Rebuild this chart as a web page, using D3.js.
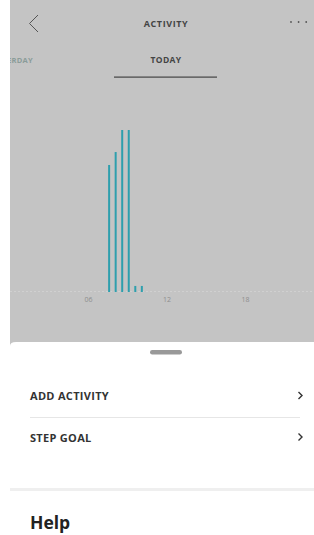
<!DOCTYPE html>
<html>
<head>
<meta charset="utf-8">
<script src="https://cdn.jsdelivr.net/npm/d3@7"></script>
<style>
	body { margin: 0; background: #fff; }
	svg { display: block; font-family: "Open Sans", sans-serif; }
</style>
</head>
<body>
<div id="chart"></div>
<script>
(function() {
	var width = 314,
		height = 535;

	// half-hour bins (hour of day) and steps in each
	var binHours = [7.5, 8.0, 8.5, 9.0, 9.5, 10.0];
	var binSteps = [1176, 1296, 1500, 1500, 56, 56];
	var tickHours = [6, 12, 18];
	var tickLabels = ["06", "12", "18"];

	var svg = d3.select("#chart")
		.append("svg")
		.attr("width", width)
		.attr("height", height)

	// gray app background
	svg.append("rect")
		.attr("x", 10).attr("y", 0)
		.attr("width", width - 10).attr("height", 350)
		.attr("fill", "#c4c4c4")

	// header
	svg.append("path")
		.attr("d", "M38,15 L29.5,23.5 L38,32")
		.attr("fill", "none")
		.attr("stroke", "#555")
		.attr("stroke-width", 1)

	svg.append("text")
		.attr("x", 166).attr("y", 27)
		.attr("text-anchor", "middle")
		.attr("font-size", 9)
		.attr("font-weight", "bold")
		.attr("letter-spacing", 0.6)
		.attr("fill", "#444")
		.text("ACTIVITY")

	svg.selectAll(".dot")
		.data([0, 1, 2])
		.enter().append("circle")
		.attr("class", "dot")
		.attr("cx", function(d){ return 291 + d * 7.6 })
		.attr("cy", 22)
		.attr("r", 0.9)
		.attr("fill", "#555")

	// tabs
	svg.append("text")
		.attr("x", 7).attr("y", 63)
		.attr("font-size", 7.5)
		.attr("font-weight", "bold")
		.attr("letter-spacing", 0.3)
		.attr("fill", "#8a9c99")
		.text("ERDAY")

	svg.append("text")
		.attr("x", 166).attr("y", 63)
		.attr("text-anchor", "middle")
		.attr("font-size", 8.5)
		.attr("font-weight", "bold")
		.attr("letter-spacing", 0.4)
		.attr("fill", "#444")
		.text("TODAY")

	svg.append("rect")
		.attr("x", 114).attr("y", 76.5)
		.attr("width", 103).attr("height", 1.2)
		.attr("fill", "#444")

	// white strip covers the cut-off tab on the left
	svg.append("rect")
		.attr("x", 0).attr("y", 0)
		.attr("width", 10).attr("height", height)
		.attr("fill", "#fff")

	// chart
	var x = d3.scaleLinear()
		.domain([0, 24])
		.range([9.5, 323.5])

	var y = d3.scaleLinear()
		.domain([0, 1500])
		.range([292, 130])

	svg.append("line")
		.attr("x1", 10).attr("x2", width)
		.attr("y1", 291.5).attr("y2", 291.5)
		.attr("stroke", "#d0d0d0")
		.attr("stroke-width", 1)
		.attr("stroke-dasharray", "2,2")

	var xAxis = d3.axisBottom(x)
		.tickValues(tickHours)
		.tickFormat(function(d, i){ return tickLabels[i] })
		.tickSize(0)
		.tickPadding(0)

	var axisG = svg.append("g")
		.attr("transform", "translate(0,297)")
		.call(xAxis)
	axisG.select(".domain").remove()
	axisG.selectAll("text")
		.attr("font-family", "Open Sans, sans-serif")
		.attr("font-size", 7)
		.attr("fill", "#8e8e8e")

	svg.selectAll(".bar")
		.data(binHours)
		.enter().append("rect")
		.attr("class", "bar")
		.attr("x", function(d){ return x(d) + 0.5 })
		.attr("y", function(d, i){ return y(binSteps[i]) })
		.attr("width", 2)
		.attr("height", function(d, i){ return y(0) - y(binSteps[i]) })
		.attr("fill", "#2e9fad")

	// bottom sheet
	svg.append("path")
		.attr("d", "M10,350 L10,346 Q10,342 16,342 L" + width + ",342 L" + width + "," + height + " L10," + height + " Z")
		.attr("fill", "#fff")

	svg.append("rect")
		.attr("x", 150).attr("y", 350)
		.attr("width", 32).attr("height", 4.5)
		.attr("rx", 2.2)
		.attr("fill", "#999")

	var rows = ["ADD ACTIVITY", "STEP GOAL"];
	var rowY = [400, 441.5];

	svg.selectAll(".row")
		.data(rows)
		.enter().append("text")
		.attr("class", "row")
		.attr("x", 30)
		.attr("y", function(d, i){ return rowY[i] })
		.attr("font-size", 11)
		.attr("font-weight", "bold")
		.attr("letter-spacing", 0.3)
		.attr("fill", "#333")
		.text(function(d){ return d })

	svg.selectAll(".chev")
		.data(rowY)
		.enter().append("path")
		.attr("class", "chev")
		.attr("d", function(d){ return "M298.5," + (d - 8) + " L302," + (d - 4.5) + " L298.5," + (d - 1) })
		.attr("fill", "none")
		.attr("stroke", "#333")
		.attr("stroke-width", 1.4)

	svg.append("line")
		.attr("x1", 30).attr("x2", 300)
		.attr("y1", 417.5).attr("y2", 417.5)
		.attr("stroke", "#e6e6e6")

	svg.append("rect")
		.attr("x", 10).attr("y", 488)
		.attr("width", width - 10).attr("height", 3)
		.attr("fill", "#efefef")

	svg.append("text")
		.attr("x", 30).attr("y", 529)
		.attr("font-size", 17.5)
		.attr("font-weight", "bold")
		.attr("fill", "#222")
		.text("Help")
})();
</script>
</body>
</html>
